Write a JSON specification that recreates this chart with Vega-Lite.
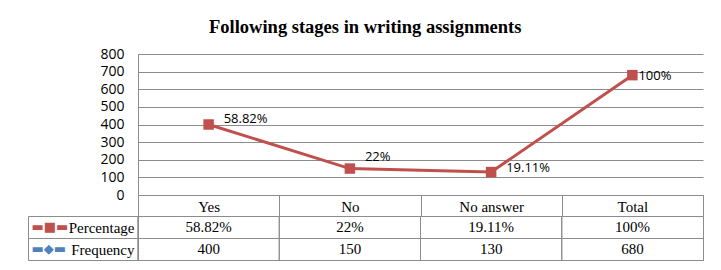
{
  "$schema": "https://vega.github.io/schema/vega-lite/v6.json",
  "background": "white",
  "padding": {"left": 27, "top": 17, "right": 19, "bottom": 10},
  "title": {"text": "Following stages in writing assignments", "font": "Liberation Serif", "fontSize": 18.5, "fontWeight": "bold", "color": "black", "anchor": "middle", "offset": 11},
  "config": {"view": {"stroke": null}},
  "bounds": "flush",
  "spacing": 21,
  "datasets": {
    "stages": [
      {"stage": "Yes", "frequency": 400, "percentage": "58.82%"},
      {"stage": "No", "frequency": 150, "percentage": "22%"},
      {"stage": "No answer", "frequency": 130, "percentage": "19.11%"},
      {"stage": "Total", "frequency": 680, "percentage": "100%"}
    ],
    "table": [
      {"stage": "Yes", "row": "Percentage", "value": "58.82%"},
      {"stage": "No", "row": "Percentage", "value": "22%"},
      {"stage": "No answer", "row": "Percentage", "value": "19.11%"},
      {"stage": "Total", "row": "Percentage", "value": "100%"},
      {"stage": "Yes", "row": "Frequency", "value": "400"},
      {"stage": "No", "row": "Frequency", "value": "150"},
      {"stage": "No answer", "row": "Frequency", "value": "130"},
      {"stage": "Total", "row": "Frequency", "value": "680"}
    ]
  },
  "vconcat": [
    {
      "width": 565,
      "height": 141,
      "data": {"name": "stages"},
      "encoding": {
        "x": {"field": "stage", "type": "nominal", "sort": ["Yes", "No", "No answer", "Total"],
          "scale": {"paddingInner": 0, "paddingOuter": 0},
          "axis": {"title": null, "orient": "bottom", "tickBand": "extent", "ticks": true, "tickSize": 21, "tickColor": "#8c8c8c", "domainColor": "#8c8c8c", "labelAngle": 0, "labelFont": "Liberation Serif", "labelFontSize": 15, "labelColor": "black", "labelPadding": -10, "labelBaseline": "middle", "grid": false}},
        "y": {"field": "frequency", "type": "quantitative", "scale": {"domain": [0, 800], "nice": false},
          "axis": {"title": null, "values": [0, 100, 200, 300, 400, 500, 600, 700, 800], "grid": true, "gridColor": "#8c8c8c", "domain": true, "domainColor": "#8c8c8c", "ticks": false, "labelPadding": 14, "labelFont": "Open Sans", "labelFontSize": 14, "labelColor": "black"}}
      },
      "layer": [
        {"mark": {"type": "line", "color": "#C0504D", "strokeWidth": 3, "point": {"shape": "square", "size": 110, "filled": true, "color": "#C0504D", "opacity": 1}}},
        {"transform": [{"filter": "datum.stage == 'Yes'"}], "mark": {"type": "text", "align": "left", "dx": 15, "dy": -6, "font": "Open Sans", "fontSize": 13, "color": "black"}, "encoding": {"text": {"field": "percentage"}}},
        {"transform": [{"filter": "datum.stage == 'No'"}], "mark": {"type": "text", "align": "left", "dx": 15, "dy": -12, "font": "Open Sans", "fontSize": 13, "color": "black"}, "encoding": {"text": {"field": "percentage"}}},
        {"transform": [{"filter": "datum.stage == 'No answer'"}], "mark": {"type": "text", "align": "left", "dx": 15, "dy": -4, "font": "Open Sans", "fontSize": 13, "color": "black"}, "encoding": {"text": {"field": "percentage"}}},
        {"transform": [{"filter": "datum.stage == 'Total'"}], "mark": {"type": "text", "align": "left", "dx": 6, "dy": 1, "font": "Open Sans", "fontSize": 13, "color": "black"}, "encoding": {"text": {"field": "percentage"}}}
      ]
    },
    {
      "width": 565,
      "height": 44,
      "data": {"name": "table"},
      "view": {"stroke": "#8c8c8c"},
      "resolve": {"axis": {"y": "independent"}},
      "layer": [
        {
          "mark": {"type": "rule", "color": "#8c8c8c", "strokeWidth": 1},
          "encoding": {
            "x": {"field": "stage", "type": "nominal", "sort": ["Yes", "No", "No answer", "Total"], "bandPosition": 0,
              "scale": {"paddingInner": 0, "paddingOuter": 0}, "axis": null}
          }
        },
        {
          "mark": {"type": "text", "font": "Liberation Serif", "fontSize": 15, "color": "black"},
          "encoding": {
            "x": {"field": "stage", "type": "nominal", "sort": ["Yes", "No", "No answer", "Total"], "axis": null},
            "y": {"field": "row", "type": "nominal", "sort": ["Percentage", "Frequency"],
              "scale": {"paddingInner": 0, "paddingOuter": 0},
              "axis": {"title": null, "orient": "left", "tickBand": "extent", "ticks": true, "tickSize": 110, "tickColor": "#8c8c8c", "domain": false, "grid": true, "gridColor": "#8c8c8c", "labelPadding": -106, "labelFont": "Liberation Serif", "labelFontSize": 15, "labelColor": "black"}},
            "text": {"field": "value"}
          }
        },
        {
          "mark": {"type": "text", "opacity": 0},
          "encoding": {
            "x": {"field": "stage", "type": "nominal", "sort": ["Yes", "No", "No answer", "Total"], "axis": null},
            "y": {"field": "row", "type": "nominal", "sort": ["Percentage", "Frequency"],
              "axis": {"title": null, "orient": "left", "offset": 110, "domain": true, "domainColor": "#8c8c8c", "ticks": false, "tickSize": 0, "grid": false, "labelAlign": "left", "labelPadding": -3, "labelExpr": "datum.value == 'Percentage' ? '▬■▬' : '▬◆▬'", "labelColor": {"condition": {"test": "datum.value == 'Percentage'", "value": "#C0504D"}, "value": "#4F81BD"}, "labelFont": "DejaVu Sans", "labelFontSize": 13}},
            "text": {"field": "value"}
          }
        }
      ]
    }
  ]
}
